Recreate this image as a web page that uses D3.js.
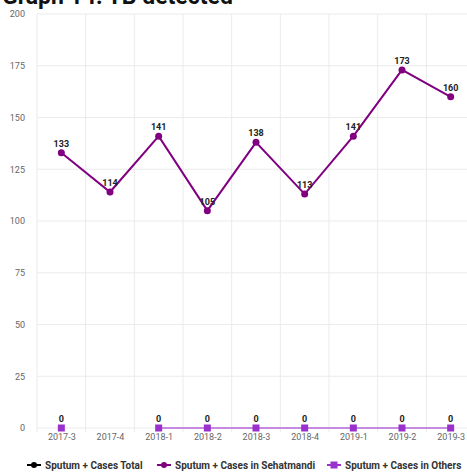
<!DOCTYPE html>
<html><head><meta charset="utf-8">
<script src="https://cdn.jsdelivr.net/npm/d3@7"></script>
<style>body{margin:0;background:#fff;font-family:Roboto,"Noto Sans",sans-serif}</style>
</head><body><svg id="c" width="467" height="476"></svg>
<script>
const title = "Graph 14: TB detected";
const categories = ["2017-3","2017-4","2018-1","2018-2","2018-3","2018-4","2019-1","2019-2","2019-3"];
const totalValues = [null,null,null,null,null,null,null,null,null];
const sehatmandiValues = [133,114,141,105,138,113,141,173,160];
const othersValues = [0,null,0,0,0,0,0,0,0];
const yTicks = [0,25,50,75,100,125,150,175,200];
const seriesNames = ["Sputum + Cases Total","Sputum + Cases in Sehatmandi","Sputum + Cases in Others"];

const svg = d3.select("#c");
const pLeft = 37, pRight = 475, pTop = 14, pBottom = 428;
const x = d3.scalePoint().domain(categories).range([pLeft, pRight]).padding(0.5);
const y = d3.scaleLinear().domain([0,200]).range([pBottom, pTop]);
const step = x.step();

svg.append("text").attr("x",2).attr("y",4).attr("font-size",23).attr("font-weight","bold")
  .attr("fill","#111").text(title);

// grid
const g = svg.append("g");
yTicks.forEach(t=>{
  g.append("line").attr("x1",pLeft).attr("x2",467).attr("y1",y(t)).attr("y2",y(t))
   .attr("stroke","#ebebeb").attr("stroke-width",1);
});
categories.forEach((c,i)=>{
  const bx = x(c) - step/2;
  g.append("line").attr("x1",bx).attr("x2",bx).attr("y1",pTop).attr("y2",pBottom+4)
   .attr("stroke","#ebebeb");
});
// y axis labels
const yAxis = d3.axisLeft(y).tickValues(yTicks).tickSize(0).tickPadding(0);
const ya = svg.append("g").attr("transform",`translate(${pLeft-12},0)`).call(yAxis);
ya.select(".domain").remove();
ya.selectAll("text").attr("font-size",9).attr("fill","#666").attr("font-family","Roboto,sans-serif");
// x axis labels
const xAxis = d3.axisBottom(x).tickSize(0).tickPadding(0);
const xa = svg.append("g").attr("transform",`translate(0,${pBottom+6})`).call(xAxis);
xa.select(".domain").remove();
xa.selectAll("text").attr("font-size",9).attr("fill","#666").attr("font-family","Roboto,sans-serif");

function drawSeries(vals, color, lineColor, shape, lw){
  const data = categories.map((c,i)=>({c,v:vals[i]}));
  const line = d3.line().defined(d=>d.v!=null).x(d=>x(d.c)).y(d=>y(d.v));
  svg.append("path").datum(data).attr("d",line).attr("fill","none")
    .attr("stroke",lineColor).attr("stroke-width",lw);
  const pts = data.filter(d=>d.v!=null);
  if(shape==="circle"){
    svg.selectAll(null).data(pts).enter().append("circle")
      .attr("cx",d=>x(d.c)).attr("cy",d=>y(d.v)).attr("r",3.5).attr("fill",color);
  } else {
    svg.selectAll(null).data(pts).enter().append("rect")
      .attr("x",d=>x(d.c)-3.5).attr("y",d=>y(d.v)-3.5).attr("width",7).attr("height",7).attr("fill",color);
  }
  svg.selectAll(null).data(pts).enter().append("text")
    .attr("x",d=>x(d.c)).attr("y",d=>y(d.v)-6).attr("text-anchor","middle")
    .attr("font-size",9).attr("font-weight","bold").attr("fill","#222").text(d=>d.v);
}
drawSeries(totalValues,"#000","#000","circle",2);
drawSeries(othersValues,"#9932cc","#c58be0","rect",2);
drawSeries(sehatmandiValues,"#800080","#800080","circle",2);

// legend
const legendItems = [
  {name:seriesNames[0], color:"#000", shape:"circle", lx:27},
  {name:seriesNames[1], color:"#800080", shape:"circle", lx:157},
  {name:seriesNames[2], color:"#9932cc", shape:"rect", lx:327}
];
const ly = 465;
legendItems.forEach(it=>{
  svg.append("line").attr("x1",it.lx).attr("x2",it.lx+14).attr("y1",ly).attr("y2",ly)
    .attr("stroke",it.color).attr("stroke-width",2);
  if(it.shape==="circle") svg.append("circle").attr("cx",it.lx+7).attr("cy",ly).attr("r",3).attr("fill",it.color);
  else svg.append("rect").attr("x",it.lx+3.5).attr("y",ly-3.5).attr("width",7).attr("height",7).attr("fill",it.color);
  svg.append("text").attr("x",it.lx+18).attr("y",ly+3.5).attr("font-size",10).attr("font-weight","bold")
    .attr("fill","#333").text(it.name);
});
</script></body></html>
